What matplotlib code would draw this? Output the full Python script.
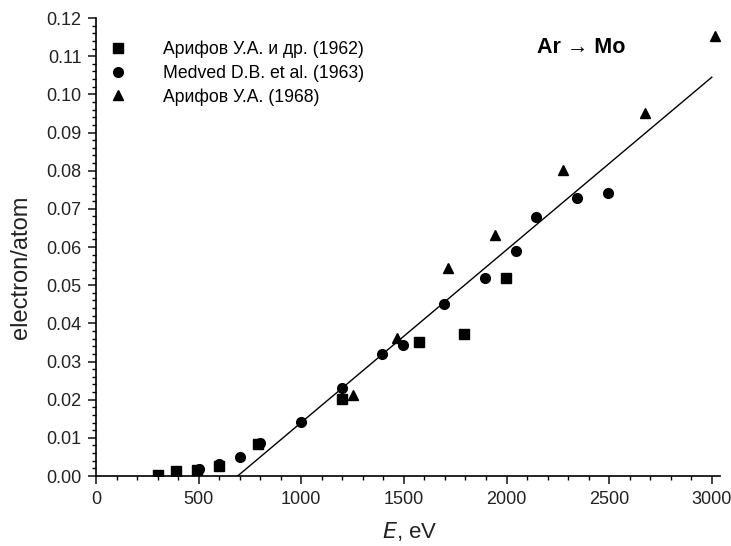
import matplotlib.pyplot as plt
from matplotlib.ticker import MultipleLocator

# Arifov U.A. et al. (1962)
e_1962 = [300, 390, 490, 600, 790, 1200, 1575, 1795, 1995]
y_1962 = [0.0003, 0.0014, 0.0015, 0.0027, 0.0083, 0.0203, 0.0352, 0.0373, 0.0518]

# Medved D.B. et al. (1963)
e_1963 = [500, 600, 700, 800, 1000, 1200, 1395, 1495, 1695, 1895, 2045, 2145, 2345, 2495]
y_1963 = [0.0019, 0.0031, 0.0050, 0.0086, 0.0142, 0.0230, 0.0320, 0.0343, 0.0451, 0.0520,
          0.0590, 0.0679, 0.0729, 0.0741]

# Arifov U.A. (1968)
e_1968 = [1250, 1465, 1715, 1945, 2275, 2675, 3015]
y_1968 = [0.0212, 0.0362, 0.0544, 0.0631, 0.0801, 0.0950, 0.1152]

# linear fit line
fit_e = [690, 3000]
fit_y = [0.0, 0.1045]

plt.rcParams['font.family'] = ['Liberation Sans', 'DejaVu Sans']

fig = plt.figure(figsize=(7.31, 5.46), dpi=100)
ax = fig.add_axes([0.1313, 0.1282, 0.8537, 0.8388])

ax.plot(e_1962, y_1962, 's', color='black', markersize=6.5, label='Арифов У.А. и др. (1962)')
ax.plot(e_1963, y_1963, 'o', color='black', markersize=7, label='Medved D.B. et al. (1963)')
ax.plot(e_1968, y_1968, '^', color='black', markersize=7.5, label='Арифов У.А. (1968)')
ax.plot(fit_e, fit_y, '-', color='black', linewidth=1.0)

ax.set_xlim(0, 3040)
ax.set_ylim(0, 0.12)
ax.xaxis.set_major_locator(MultipleLocator(500))
ax.xaxis.set_minor_locator(MultipleLocator(100))
ax.yaxis.set_major_locator(MultipleLocator(0.01))
ax.yaxis.set_minor_locator(MultipleLocator(0.002))
ax.yaxis.set_major_formatter(plt.FuncFormatter(lambda v, p: f"{v:.2f}"))

ax.spines['top'].set_visible(False)
ax.spines['right'].set_visible(False)
ax.spines['left'].set_linewidth(1.2)
ax.spines['bottom'].set_linewidth(1.2)
ax.tick_params(which='major', direction='out', length=5.5, width=1.2, labelsize=13,
               colors='#222222', pad=5)
ax.tick_params(which='minor', direction='out', length=3, width=1.0)

ax.set_xlabel('$\\it{E}$, eV', fontsize=16, color='#222222')
ax.set_ylabel('electron/atom', fontsize=17, color='#222222')
ax.xaxis.set_label_coords(0.503, -0.097)
ax.yaxis.set_label_coords(-0.102, 0.456)

ax.text(2148, 0.1122, 'Ar → Mo', fontsize=15.5, fontweight='bold', ha='left', va='center')

ax.legend(loc='upper left', frameon=False, fontsize=12.7, handletextpad=1.55,
          borderaxespad=0.3, bbox_to_anchor=(-0.0128, 0.977), labelspacing=0.36)

fig.savefig('out.png', dpi=100)
